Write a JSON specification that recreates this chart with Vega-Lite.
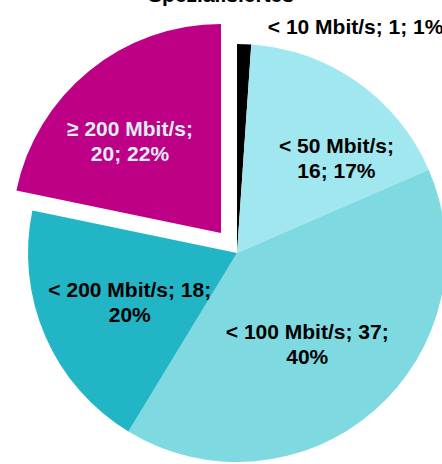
{
  "$schema": "https://vega.github.io/schema/vega-lite/v6.json",
  "width": 442,
  "height": 464,
  "autosize": {"type": "none"},
  "padding": 0,
  "background": "white",
  "title": {
    "text": "Spezialisiertes",
    "anchor": "middle",
    "orient": "top",
    "offset": -23,
    "baseline": "alphabetic",
    "font": "Liberation Sans",
    "fontSize": 21,
    "fontWeight": "bold",
    "color": "#000000"
  },
  "data": {
    "values": [
      {"k": "< 10 Mbit/s", "order": 1, "value": 1, "label": "< 10 Mbit/s; 1; 1%"},
      {"k": "< 50 Mbit/s", "order": 2, "value": 16, "label": "< 50 Mbit/s;\n16; 17%"},
      {"k": "< 100 Mbit/s", "order": 3, "value": 37, "label": "< 100 Mbit/s; 37;\n40%"},
      {"k": "< 200 Mbit/s", "order": 4, "value": 18, "label": "< 200 Mbit/s; 18;\n20%"},
      {"k": "≥ 200 Mbit/s", "order": 5, "value": 20, "label": "≥ 200 Mbit/s;\n20; 22%"}
    ]
  },
  "transform": [
    {"stack": "value", "groupby": [], "sort": [{"field": "order", "order": "ascending"}], "as": ["start", "end"]},
    {"calculate": "(datum.start + datum.end) / 2", "as": "mid"}
  ],
  "layer": [
    {
      "transform": [{"filter": "datum.order != 5"}],
      "mark": {"type": "arc", "radius": 209, "xOffset": 16, "yOffset": 21},
      "encoding": {
        "theta": {"field": "start", "type": "quantitative", "scale": {"domain": [0, 92]}},
        "theta2": {"field": "end"},
        "color": {
          "field": "k", "type": "nominal", "legend": null,
          "scale": {
            "domain": ["< 10 Mbit/s", "< 50 Mbit/s", "< 100 Mbit/s", "< 200 Mbit/s", "≥ 200 Mbit/s"],
            "range": ["#000000", "#a0e7ef", "#7fd9e1", "#21b5c5", "#be0087"]
          }
        }
      }
    },
    {
      "transform": [{"filter": "datum.order == 5"}],
      "mark": {"type": "arc", "radius": 209, "xOffset": 0, "yOffset": 1},
      "encoding": {
        "theta": {"field": "start", "type": "quantitative", "scale": {"domain": [0, 92]}},
        "theta2": {"field": "end"},
        "color": {"field": "k", "type": "nominal", "legend": null}
      }
    },
    {
      "transform": [{"filter": "datum.order == 1"}],
      "mark": {"type": "text", "radius": 228, "xOffset": 16, "yOffset": 21, "dx": 23, "dy": 3, "align": "left", "baseline": "middle", "font": "Liberation Sans", "fontSize": 21, "fontWeight": "bold", "color": "#000000"},
      "encoding": {
        "theta": {"field": "mid", "type": "quantitative", "scale": {"domain": [0, 92]}},
        "text": {"field": "label"}
      }
    },
    {
      "transform": [{"filter": "datum.order == 2"}],
      "mark": {"type": "text", "radius": 136, "xOffset": 16, "yOffset": 21, "dx": 21, "dy": 5, "align": "center", "baseline": "middle", "lineBreak": "\n", "lineHeight": 25, "font": "Liberation Sans", "fontSize": 21, "fontWeight": "bold", "color": "#000000"},
      "encoding": {
        "theta": {"field": "mid", "type": "quantitative", "scale": {"domain": [0, 92]}},
        "text": {"field": "label"}
      }
    },
    {
      "transform": [{"filter": "datum.order == 3"}],
      "mark": {"type": "text", "radius": 116, "xOffset": 16, "yOffset": 21, "dx": -6, "dy": -7, "align": "center", "baseline": "middle", "lineBreak": "\n", "lineHeight": 25, "font": "Liberation Sans", "fontSize": 21, "fontWeight": "bold", "color": "#000000"},
      "encoding": {
        "theta": {"field": "mid", "type": "quantitative", "scale": {"domain": [0, 92]}},
        "text": {"field": "label"}
      }
    },
    {
      "transform": [{"filter": "datum.order == 4"}],
      "mark": {"type": "text", "radius": 118, "xOffset": 16, "yOffset": 21, "dx": 1, "dy": -9, "align": "center", "baseline": "middle", "lineBreak": "\n", "lineHeight": 25, "font": "Liberation Sans", "fontSize": 21, "fontWeight": "bold", "color": "#000000"},
      "encoding": {
        "theta": {"field": "mid", "type": "quantitative", "scale": {"domain": [0, 92]}},
        "text": {"field": "label"}
      }
    },
    {
      "transform": [{"filter": "datum.order == 5"}],
      "mark": {"type": "text", "radius": 130, "xOffset": 0, "yOffset": 1, "dx": -9, "dy": -2, "align": "center", "baseline": "middle", "lineBreak": "\n", "lineHeight": 25, "font": "Liberation Sans", "fontSize": 21, "fontWeight": "bold", "color": "#dcecf4"},
      "encoding": {
        "theta": {"field": "mid", "type": "quantitative", "scale": {"domain": [0, 92]}},
        "text": {"field": "label"}
      }
    }
  ]
}
